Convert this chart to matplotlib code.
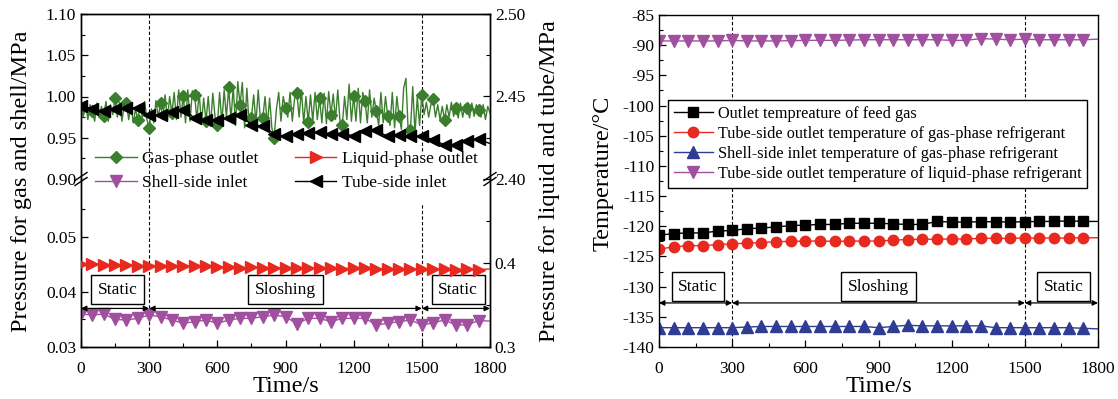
import matplotlib
matplotlib.use('Agg')
import matplotlib.pyplot as plt
from matplotlib.lines import Line2D
from matplotlib.ticker import FixedLocator, FormatStrFormatter

plt.rcParams['font.family'] = ['Liberation Serif', 'DejaVu Serif']
plt.rcParams['mathtext.fontset'] = 'stix'
plt.rcParams['axes.unicode_minus'] = False

# ---------------- data: left panel (pressure) ----------------
time_fine = list(range(0, 1801, 10))
gas_outlet = [
    0.985, 0.975, 0.993, 0.972, 0.990,
    0.982, 0.970, 0.992, 0.975, 0.988,
    0.976, 0.994, 0.970, 0.990, 0.978,
    0.998, 0.975, 0.993, 0.970, 0.989,
    0.992, 0.972, 0.990, 0.968, 0.985,
    0.971, 0.990, 0.975, 0.994, 0.972,
    0.962, 0.985, 0.968, 0.995, 0.975,
    0.992, 0.972, 1.002, 0.970, 1.000,
    0.980, 1.005, 0.972, 1.008, 0.975,
    1.001, 0.968, 1.008, 0.970, 1.007,
    1.002, 0.972, 1.005, 0.966, 0.998,
    0.970, 1.000, 0.964, 1.004, 0.975,
    0.965, 1.005, 0.968, 1.008, 0.975,
    1.011, 0.972, 1.012, 0.965, 1.018,
    0.990, 1.017, 0.962, 1.010, 0.965,
    0.974, 1.002, 0.968, 1.008, 0.970,
    0.974, 1.000, 0.965, 0.998, 0.962,
    0.950, 0.985, 1.005, 0.970, 1.000,
    0.986, 0.975, 1.005, 0.970, 0.998,
    1.004, 0.975, 1.008, 0.968, 1.000,
    0.969, 1.002, 0.970, 1.005, 0.972,
    0.998, 0.968, 1.004, 0.967, 1.006,
    0.978, 1.003, 0.972, 1.008, 0.970,
    0.965, 1.000, 0.972, 1.015, 0.970,
    1.001, 0.970, 1.010, 0.968, 1.005,
    0.994, 0.968, 1.008, 0.975, 0.998,
    0.982, 0.965, 1.005, 0.968, 1.000,
    0.976, 0.965, 1.005, 0.962, 1.000,
    0.976, 0.960, 1.010, 1.022, 0.958,
    0.960, 1.012, 0.955, 1.000, 0.965,
    1.002, 0.978, 0.993, 0.975, 0.990,
    0.997, 0.975, 0.990, 0.972, 0.988,
    0.972, 0.990, 0.975, 0.993, 0.976,
    0.986, 0.974, 0.992, 0.975, 0.990,
    0.986, 0.974, 0.992, 0.976, 0.990,
    0.984, 0.975, 0.990, 0.972, 0.988,
    0.980,
]

time_coarse = list(range(0, 1801, 50))
tube_inlet = [
    2.4445, 2.4425, 2.4412, 2.4422, 2.4432, 2.4430, 2.4386, 2.4386, 2.4405, 2.4421,
    2.4370, 2.4360, 2.4355, 2.4370, 2.4385, 2.4330, 2.4320, 2.4274, 2.4258, 2.4274,
    2.4278, 2.4282, 2.4274, 2.4274, 2.4262, 2.4288, 2.4294, 2.4258, 2.4268, 2.4258,
    2.4262, 2.4237, 2.4207, 2.4207, 2.4233, 2.4240, 2.4215,
]
liquid_outlet = [
    0.399, 0.399, 0.398, 0.398, 0.398, 0.397, 0.397, 0.397, 0.396, 0.396,
    0.396, 0.396, 0.395, 0.395, 0.394, 0.395, 0.394, 0.394, 0.394, 0.394,
    0.394, 0.394, 0.394, 0.393, 0.394, 0.394, 0.393, 0.393, 0.393, 0.393,
    0.393, 0.393, 0.393, 0.392, 0.393, 0.392, 0.393,
]
shell_inlet = [
    0.0360, 0.0358, 0.0360, 0.0350, 0.0349, 0.0352, 0.0358, 0.0355, 0.0349, 0.0343,
    0.0346, 0.0349, 0.0343, 0.0349, 0.0352, 0.0352, 0.0355, 0.0358, 0.0355, 0.0342,
    0.0352, 0.0352, 0.0346, 0.0352, 0.0352, 0.0352, 0.0340, 0.0343, 0.0346, 0.0349,
    0.0340, 0.0344, 0.0349, 0.0340, 0.0340, 0.0348, 0.0347,
]

# ---------------- data: right panel (temperature) ----------------
time_temp = list(range(0, 1801, 60))
feed_gas_out = [
    -121.5, -121.2, -121.1, -121.1, -120.8, -120.7, -120.4, -120.3, -120.1, -119.9,
    -119.8, -119.7, -119.7, -119.5, -119.5, -119.5, -119.6, -119.7, -119.7, -119.2,
    -119.3, -119.3, -119.25, -119.25, -119.3, -119.25, -119.2, -119.2, -119.1, -119.2,
    -119.2,
]
tube_gas_out = [
    -123.8, -123.4, -123.2, -123.2, -123.05, -122.9, -122.8, -122.7, -122.55, -122.5,
    -122.45, -122.45, -122.5, -122.45, -122.45, -122.45, -122.3, -122.2, -122.15, -122.15,
    -122.1, -122.1, -122.0, -122.0, -122.0, -121.95, -121.95, -121.95, -121.95, -121.9,
    -121.9,
]
shell_gas_in = [
    -136.8, -136.8, -136.8, -136.8, -136.8, -136.8, -136.7, -136.6, -136.6, -136.6,
    -136.6, -136.6, -136.6, -136.6, -136.6, -136.8, -136.6, -136.4, -136.5, -136.5,
    -136.5, -136.5, -136.5, -136.8, -136.8, -136.8, -136.8, -136.8, -136.8, -136.9,
    -137.0,
]
tube_liq_out = [
    -89.3, -89.3, -89.3, -89.3, -89.3, -89.2, -89.3, -89.3, -89.3, -89.25,
    -89.2, -89.2, -89.2, -89.15, -89.1, -89.1, -89.1, -89.1, -89.1, -89.1,
    -89.2, -89.2, -88.9, -89.0, -89.1, -89.0, -89.1, -89.1, -89.1, -89.1,
    -89.0,
]

stage_labels = ['Static', 'Sloshing', 'Static']
stage_bounds = [0, 300, 1500, 1800]
stage_text_x = [160, 900, 1660]

left_legend = ['Gas-phase outlet', 'Liquid-phase outlet', 'Shell-side inlet', 'Tube-side inlet']
right_legend = ['Outlet tempreature of feed gas',
                'Tube-side outlet temperature of gas-phase refrigerant',
                'Shell-side inlet temperature of gas-phase refrigerant',
                'Tube-side outlet temperature of liquid-phase refrigerant']

GREEN = '#3b7e2d'
RED = '#e8291f'
PURPLE = '#a0509e'
BLUE = '#2e3c93'
BLACK = '#000000'

W, H = 1118, 399
fig = plt.figure(figsize=(W / 100, H / 100), dpi=100)


def fx(px):
    return px / W


def fy(py):
    return 1 - py / H


TICK = 12.5
LABEL = 17.5


def style_axis(ax):
    ax.tick_params(direction='in', which='major', length=5, width=0.9, labelsize=TICK)
    ax.tick_params(direction='in', which='minor', length=3, width=0.8)
    ax.tick_params(axis='x', which='major', pad=10)
    for s in ax.spines.values():
        s.set_linewidth(1.0)


# left panel geometry
Lx0, Lx1 = 81, 490
top_y0, brk, bot_y1 = 14, 179, 347

ax_top = fig.add_axes([fx(Lx0), fy(brk), fx(Lx1 - Lx0), (brk - top_y0) / H])
ax_bot = fig.add_axes([fx(Lx0), fy(bot_y1), fx(Lx1 - Lx0), (bot_y1 - brk) / H])
ax_top_r = ax_top.twinx()
ax_bot_r = ax_bot.twinx()

for a in (ax_top, ax_bot, ax_top_r, ax_bot_r):
    a.set_xlim(0, 1800)
    style_axis(a)

ax_top.set_ylim(0.90, 1.10)
ax_top_r.set_ylim(2.40, 2.50)
ax_bot.set_ylim(0.03, 0.0605)
ax_bot_r.set_ylim(0.3, 0.5)

ax_top.yaxis.set_major_locator(FixedLocator([0.90, 0.95, 1.00, 1.05, 1.10]))
ax_top.yaxis.set_minor_locator(FixedLocator([0.925, 0.975, 1.025, 1.075]))
ax_top.yaxis.set_major_formatter(FormatStrFormatter('%.2f'))
ax_top_r.yaxis.set_major_locator(FixedLocator([2.40, 2.45, 2.50]))
ax_top_r.yaxis.set_minor_locator(FixedLocator([2.425, 2.475]))
ax_top_r.yaxis.set_major_formatter(FormatStrFormatter('%.2f'))
ax_bot.yaxis.set_major_locator(FixedLocator([0.03, 0.04, 0.05]))
ax_bot.yaxis.set_minor_locator(FixedLocator([0.035, 0.045, 0.055]))
ax_bot.yaxis.set_major_formatter(FormatStrFormatter('%.2f'))
ax_bot_r.yaxis.set_major_locator(FixedLocator([0.3, 0.4]))
ax_bot_r.yaxis.set_minor_locator(FixedLocator([0.35, 0.45]))
ax_bot_r.yaxis.set_major_formatter(FormatStrFormatter('%.1f'))

for a in (ax_top, ax_top_r):
    a.spines['bottom'].set_visible(False)
    a.tick_params(axis='x', which='both', bottom=False, labelbottom=False)
for a in (ax_bot, ax_bot_r):
    a.spines['top'].set_visible(False)

ax_bot.xaxis.set_major_locator(FixedLocator(list(range(0, 1801, 300))))
ax_bot.xaxis.set_minor_locator(FixedLocator(list(range(150, 1800, 300))))
ax_bot_r.tick_params(axis='x', which='both', bottom=False)

mk_all = slice(0, -1)
h_gas, = ax_top.plot(time_fine, gas_outlet, color=GREEN, lw=1.0, marker='D', ms=6,
                     markevery=slice(0, -1, 5), zorder=3)
h_tube, = ax_top_r.plot(time_coarse, tube_inlet, color=BLACK, lw=1.0, marker='<', ms=8,
                        markevery=mk_all, zorder=3)
h_shell, = ax_bot.plot(time_coarse, shell_inlet, color=PURPLE, lw=1.0, marker='v', ms=8,
                       markevery=mk_all, zorder=3)
h_liq, = ax_bot_r.plot(time_coarse, liquid_outlet, color=RED, lw=1.0, marker='>', ms=8,
                       markevery=mk_all, zorder=3)

# phase separators
dash = dict(color='black', lw=0.8, linestyle=(0, (3, 2)))
ax_top.axvline(300, **dash)
ax_top.axvline(1500, ymin=0.17, **dash)
ax_bot.axvline(300, **dash)
ax_bot.axvline(1500, ymax=0.86, **dash)

# stage annotations (left)
for i, lab in enumerate(stage_labels):
    ax_bot.annotate('', xy=(stage_bounds[i + 1], 0.0370), xytext=(stage_bounds[i], 0.0370),
                    arrowprops=dict(arrowstyle='<|-|>', color='black', lw=0.9,
                                    mutation_scale=8, shrinkA=0, shrinkB=0), zorder=4)
    ax_bot.text(stage_text_x[i], 0.0404, lab, ha='center', va='center', fontsize=TICK,
                bbox=dict(boxstyle='square,pad=0.38', fc='white', ec='black', lw=1.0), zorder=5)

# break marks
for xp in (Lx0, Lx1):
    for dy in (-2.5, 2.5):
        fig.add_artist(Line2D([fx(xp - 6), fx(xp + 6)], [fy(brk + dy + 4), fy(brk + dy - 4)],
                              color='black', lw=1.0))

# column-major order -> rows: [gas, liquid], [shell, tube]
fig.legend([h_gas, h_shell, h_liq, h_tube],
           [left_legend[0], left_legend[2], left_legend[1], left_legend[3]],
           ncol=2, frameon=False, fontsize=TICK, loc='upper left',
           bbox_to_anchor=(fx(95), fy(151)), handlelength=2.4, handletextpad=0.3,
           columnspacing=2.1, labelspacing=0.45, borderaxespad=0, borderpad=0)

fig.text(fx(22), fy(181), 'Pressure for gas and shell/MPa', rotation=90, ha='center', va='center',
         fontsize=LABEL)
fig.text(fx(549), fy(181), 'Pressure for liquid and tube/MPa', rotation=90, ha='center', va='center',
         fontsize=LABEL)
ax_bot.set_xlabel('Time/s', fontsize=LABEL, labelpad=-1)

# ---------------- right panel ----------------
Rx0, Rx1 = 659, 1098
axR = fig.add_axes([fx(Rx0), fy(347), fx(Rx1 - Rx0), (347 - 15) / H])
style_axis(axR)
axR.set_xlim(0, 1800)
axR.set_ylim(-140, -85)
axR.xaxis.set_major_locator(FixedLocator(list(range(0, 1801, 300))))
axR.xaxis.set_minor_locator(FixedLocator(list(range(150, 1800, 300))))
axR.yaxis.set_major_locator(FixedLocator(list(range(-140, -84, 5))))
axR.yaxis.set_minor_locator(FixedLocator([v + 2.5 for v in range(-140, -85, 5)]))

hr1, = axR.plot(time_temp, feed_gas_out, color=BLACK, lw=1.0, marker='s', ms=6.5, markevery=mk_all)
hr2, = axR.plot(time_temp, tube_gas_out, color=RED, lw=1.0, marker='o', ms=7.5, markevery=mk_all)
hr3, = axR.plot(time_temp, shell_gas_in, color=BLUE, lw=1.0, marker='^', ms=8, markevery=mk_all)
hr4, = axR.plot(time_temp, tube_liq_out, color=PURPLE, lw=1.0, marker='v', ms=8, markevery=mk_all)

axR.axvline(300, zorder=1, **dash)
axR.axvline(1500, zorder=1, **dash)

for i, lab in enumerate(stage_labels):
    axR.annotate('', xy=(stage_bounds[i + 1], -132.7), xytext=(stage_bounds[i], -132.7),
                 arrowprops=dict(arrowstyle='<|-|>', color='black', lw=0.9,
                                 mutation_scale=8, shrinkA=0, shrinkB=0), zorder=4)
    axR.text(stage_text_x[i], -130.0, lab, ha='center', va='center', fontsize=TICK,
             bbox=dict(boxstyle='square,pad=0.38', fc='white', ec='black', lw=1.0), zorder=5)

leg = axR.legend([hr1, hr2, hr3, hr4], right_legend, loc='upper left',
                 bbox_to_anchor=((668 - Rx0) / (Rx1 - Rx0), (347 - 100) / 332),
                 fontsize=11.7, frameon=True, fancybox=False, edgecolor='black', framealpha=1,
                 handlelength=2.4, handletextpad=0.3, labelspacing=0.25, borderpad=0.35,
                 borderaxespad=0)
leg.get_frame().set_linewidth(1.0)
leg.set_zorder(10)

axR.set_xlabel('Time/s', fontsize=LABEL, labelpad=-1)
fig.text(fx(603), fy(173), 'Temperature/\u00b0C', rotation=90, ha='center', va='center', fontsize=LABEL)

fig.savefig('out.png', dpi=100)
